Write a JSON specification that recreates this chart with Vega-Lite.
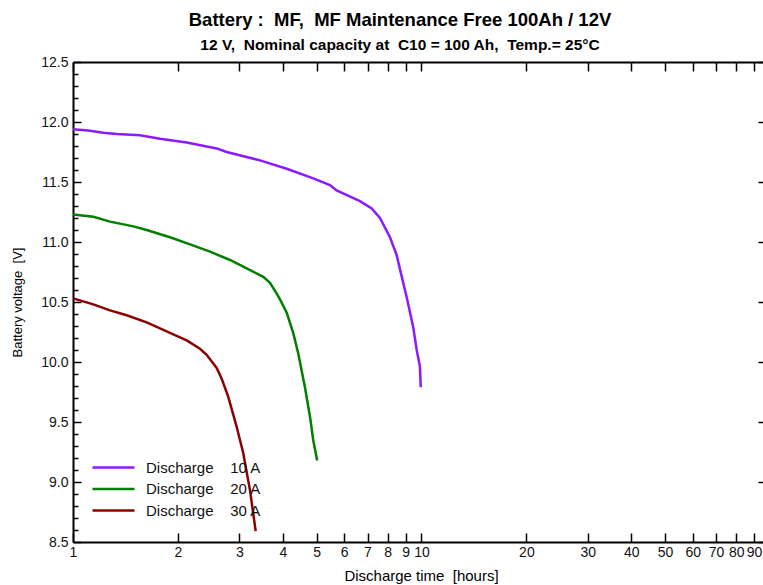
{
  "$schema": "https://vega.github.io/schema/vega-lite/v6.json",
  "width": 690,
  "height": 480,
  "autosize": "none",
  "padding": {"left": 73, "top": 62, "right": 0, "bottom": 43},
  "config": {"font": "Liberation Sans", "view": {"stroke": null}},
  "title": {
    "text": "Battery :\u00a0\u00a0MF,\u00a0\u00a0MF Maintenance Free 100Ah / 12V",
    "subtitle": "12 V,\u00a0\u00a0Nominal capacity at\u00a0\u00a0C10 = 100 Ah,\u00a0\u00a0Temp.= 25°C",
    "fontSize": 18.5,
    "fontWeight": "bold",
    "subtitleFontSize": 15.5,
    "subtitleFontWeight": "bold",
    "subtitleColor": "#000000",
    "color": "#000000",
    "anchor": "middle",
    "dx": -18,
    "offset": 2,
    "subtitlePadding": 8
  },
  "data": {
    "values": [
      {"series": "10 A", "hours": 1.0, "volts": 11.94},
      {"series": "10 A", "hours": 1.106, "volts": 11.93},
      {"series": "10 A", "hours": 1.222, "volts": 11.91},
      {"series": "10 A", "hours": 1.335, "volts": 11.9},
      {"series": "10 A", "hours": 1.557, "volts": 11.89},
      {"series": "10 A", "hours": 1.777, "volts": 11.86},
      {"series": "10 A", "hours": 2.12, "volts": 11.83},
      {"series": "10 A", "hours": 2.584, "volts": 11.78},
      {"series": "10 A", "hours": 2.761, "volts": 11.75},
      {"series": "10 A", "hours": 3.44, "volts": 11.68},
      {"series": "10 A", "hours": 4.105, "volts": 11.61},
      {"series": "10 A", "hours": 4.891, "volts": 11.53},
      {"series": "10 A", "hours": 5.462, "volts": 11.475},
      {"series": "10 A", "hours": 5.709, "volts": 11.43},
      {"series": "10 A", "hours": 6.66, "volts": 11.34},
      {"series": "10 A", "hours": 7.195, "volts": 11.28},
      {"series": "10 A", "hours": 7.6, "volts": 11.2},
      {"series": "10 A", "hours": 8.12, "volts": 11.04},
      {"series": "10 A", "hours": 8.49, "volts": 10.89},
      {"series": "10 A", "hours": 8.68, "volts": 10.77},
      {"series": "10 A", "hours": 9.07, "volts": 10.54},
      {"series": "10 A", "hours": 9.47, "volts": 10.29},
      {"series": "10 A", "hours": 9.69, "volts": 10.1},
      {"series": "10 A", "hours": 9.9, "volts": 9.96},
      {"series": "10 A", "hours": 9.95, "volts": 9.79},
      {"series": "20 A", "hours": 1.0, "volts": 11.23},
      {"series": "20 A", "hours": 1.144, "volts": 11.21},
      {"series": "20 A", "hours": 1.277, "volts": 11.17},
      {"series": "20 A", "hours": 1.49, "volts": 11.13},
      {"series": "20 A", "hours": 1.627, "volts": 11.1},
      {"series": "20 A", "hours": 1.898, "volts": 11.04},
      {"series": "20 A", "hours": 2.167, "volts": 10.98},
      {"series": "20 A", "hours": 2.473, "volts": 10.92},
      {"series": "20 A", "hours": 2.822, "volts": 10.85},
      {"series": "20 A", "hours": 3.151, "volts": 10.78},
      {"series": "20 A", "hours": 3.516, "volts": 10.71},
      {"series": "20 A", "hours": 3.676, "volts": 10.66},
      {"series": "20 A", "hours": 3.842, "volts": 10.57},
      {"series": "20 A", "hours": 3.93, "volts": 10.52},
      {"series": "20 A", "hours": 4.105, "volts": 10.41},
      {"series": "20 A", "hours": 4.287, "volts": 10.24},
      {"series": "20 A", "hours": 4.43, "volts": 10.07},
      {"series": "20 A", "hours": 4.63, "volts": 9.79},
      {"series": "20 A", "hours": 4.79, "volts": 9.54},
      {"series": "20 A", "hours": 4.89, "volts": 9.35},
      {"series": "20 A", "hours": 5.02, "volts": 9.18},
      {"series": "30 A", "hours": 1.0, "volts": 10.53},
      {"series": "30 A", "hours": 1.144, "volts": 10.48},
      {"series": "30 A", "hours": 1.277, "volts": 10.43},
      {"series": "30 A", "hours": 1.426, "volts": 10.39},
      {"series": "30 A", "hours": 1.627, "volts": 10.33},
      {"series": "30 A", "hours": 1.777, "volts": 10.28},
      {"series": "30 A", "hours": 1.94, "volts": 10.23},
      {"series": "30 A", "hours": 2.12, "volts": 10.18},
      {"series": "30 A", "hours": 2.314, "volts": 10.11},
      {"series": "30 A", "hours": 2.418, "volts": 10.06},
      {"series": "30 A", "hours": 2.584, "volts": 9.95},
      {"series": "30 A", "hours": 2.671, "volts": 9.86},
      {"series": "30 A", "hours": 2.79, "volts": 9.71},
      {"series": "30 A", "hours": 2.949, "volts": 9.46},
      {"series": "30 A", "hours": 3.08, "volts": 9.24},
      {"series": "30 A", "hours": 3.221, "volts": 8.93},
      {"series": "30 A", "hours": 3.344, "volts": 8.59}
    ]
  },
  "layer": [
    {
      "mark": {"type": "line", "strokeWidth": 2.5},
      "encoding": {
        "x": {
          "field": "hours", "type": "quantitative",
          "scale": {"type": "log", "domain": [1, 95.5], "nice": false},
          "axis": {
            "orient": "bottom",
            "title": "Discharge time\u00a0\u00a0[hours]",
            "values": [1, 2, 3, 4, 5, 6, 7, 8, 9, 10, 20, 30, 40, 50, 60, 70, 80, 90],
            "format": "d",
            "grid": false,
            "domainColor": "#000000", "domainWidth": 2,
            "tickColor": "#000000", "tickWidth": 1.5, "tickSize": -9,
            "labelPadding": 12, "labelFontSize": 14, "labelColor": "#111111",
            "labelFlush": false, "labelOverlap": false, "labelBound": false,
            "titleFontSize": 15, "titleFontWeight": "normal", "titleColor": "#000000",
            "titlePadding": 9, "titleX": 348
          }
        },
        "y": {
          "field": "volts", "type": "quantitative",
          "scale": {"domain": [8.5, 12.5], "nice": false, "zero": false},
          "axis": {
            "orient": "left",
            "title": "Battery voltage\u00a0\u00a0[V]",
            "values": [8.5, 9, 9.5, 10, 10.5, 11, 11.5, 12, 12.5],
            "format": ".1f",
            "grid": false,
            "domainColor": "#000000", "domainWidth": 2,
            "tickColor": "#000000", "tickWidth": 1.5, "tickSize": -8,
            "labelPadding": 13, "labelFontSize": 14, "labelColor": "#111111",
            "labelFlush": false, "labelOverlap": false, "labelBound": false,
            "titleFontSize": 13, "titleFontWeight": "normal", "titleColor": "#000000",
            "titlePadding": 16
          }
        },
        "color": {
          "field": "series", "type": "nominal",
          "scale": {"domain": ["10 A", "20 A", "30 A"], "range": ["#8c1aff", "#008000", "#8b0000"]},
          "legend": {
            "orient": "none", "legendX": 32, "legendY": 397,
            "title": null,
            "symbolType": "M-3,0H3",
            "symbolSize": 196,
            "symbolStrokeWidth": 2.5,
            "labelExpr": "'Discharge\u00a0\u00a0\u00a0\u00a0' + datum.label",
            "labelFontSize": 15, "labelColor": "#111111",
            "labelOffset": 24, "rowPadding": 4.5, "padding": 0
          }
        }
      }
    },
    {
      "mark": {"type": "line", "opacity": 0},
      "encoding": {
        "x": {
          "field": "hours", "type": "quantitative",
          "scale": {"type": "log", "domain": [1, 95.5], "nice": false},
          "axis": {
            "orient": "top", "title": null, "labels": false, "grid": false,
            "values": [1, 2, 3, 4, 5, 6, 7, 8, 9, 10, 20, 30, 40, 50, 60, 70, 80, 90],
            "domainColor": "#000000", "domainWidth": 2,
            "tickColor": "#000000", "tickWidth": 1.5, "tickSize": -9
          }
        },
        "y": {
          "field": "volts", "type": "quantitative",
          "scale": {"domain": [8.5, 12.5], "nice": false, "zero": false},
          "axis": {
            "orient": "right", "title": null, "labels": false, "grid": false, "domain": false,
            "values": [8.5, 9, 9.5, 10, 10.5, 11, 11.5, 12, 12.5],
            "tickColor": "#000000", "tickWidth": 1.5, "tickSize": -5
          }
        },
        "detail": {"field": "series", "type": "nominal"}
      }
    },
    {
      "mark": {"type": "line", "opacity": 0},
      "encoding": {
        "x": {
          "field": "hours", "type": "quantitative",
          "scale": {"type": "log", "domain": [1, 95.5], "nice": false},
          "axis": null
        },
        "y": {
          "field": "volts", "type": "quantitative",
          "scale": {"domain": [8.5, 12.5], "nice": false, "zero": false},
          "axis": {
            "orient": "left", "title": null, "labels": false, "grid": false, "domain": false,
            "values": [8.6, 8.7, 8.8, 8.9, 9.1, 9.2, 9.3, 9.4, 9.6, 9.7, 9.8, 9.9, 10.1, 10.2, 10.3, 10.4, 10.6, 10.7, 10.8, 10.9, 11.1, 11.2, 11.3, 11.4, 11.6, 11.7, 11.8, 11.9, 12.1, 12.2, 12.3, 12.4],
            "tickColor": "#000000", "tickWidth": 1.5, "tickSize": -5
          }
        },
        "detail": {"field": "series", "type": "nominal"}
      }
    }
  ],
  "resolve": {"axis": {"x": "independent", "y": "independent"}}
}
